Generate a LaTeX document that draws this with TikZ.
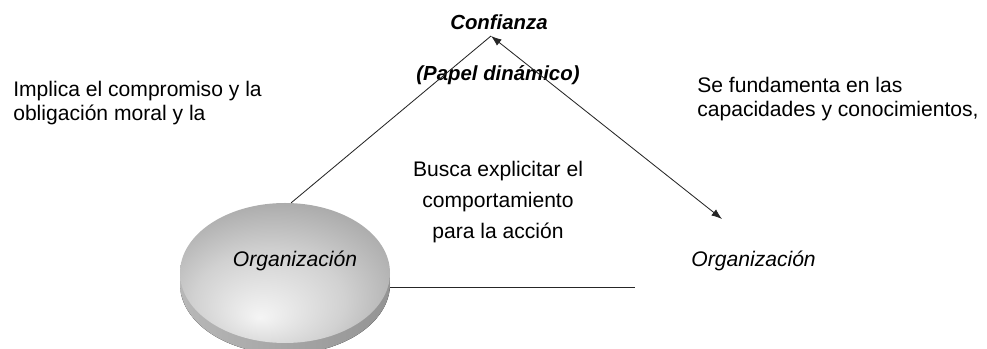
\documentclass[tikz,border=0pt]{standalone}
\usepackage{fontspec}
\setmainfont{Liberation Sans}
\usetikzlibrary{arrows.meta,shapes.geometric}

\pgfdeclareradialshading{discface}{\pgfpoint{-6bp}{-16bp}}{%
  color(0bp)=(black!4); color(18bp)=(black!18); color(36bp)=(black!38); color(50bp)=(black!52)}

\tikzset{
  txt/.style={font=\fontsize{15}{17}\selectfont, align=left, inner sep=0pt},
  mid/.style={font=\fontsize{15}{22}\selectfont, align=center, inner sep=0pt},
  hdr/.style={font=\fontsize{14.5}{17}\selectfont\bfseries\itshape, inner sep=0pt},
  org/.style={font=\fontsize{15}{17}\selectfont\itshape, inner sep=0pt},
  conn/.style={line width=0.6pt, black!85}
}

\begin{document}
\begin{tikzpicture}[>={Latex[length=7.5pt,width=5.5pt]}]
  \useasboundingbox (0,0) rectangle (24.675,8.725);

  % base of the disc
  \fill[left color=black!28, middle color=black!12, right color=black!42]
    (7.125,1.625) ellipse (2.625 and 1.75);
  \node[ellipse, minimum width=5.25cm, minimum height=3.5cm, shading=discface]
    (orgA) at (7.125,1.9) {};
  \node[org, anchor=base] (orgAtxt) at (7.375,2.07) {Organización};

  \node[hdr, anchor=base] (conf) at (12.475,7.975) {Confianza};
  \coordinate (apex) at (12.275,7.825);
  \node[hdr, anchor=base] (papel) at (12.45,6.7) {(Papel dinámico)};

  \node[txt, anchor=north west] (implica) at (0.325,6.69)
    {Implica el compromiso y la\\obligación moral y la};
  \node[txt, anchor=north west] (funda) at (17.425,6.8)
    {Se fundamenta en las\\capacidades y conocimientos,};
  \node[mid] (busca) at (12.45,3.675)
    {Busca explicitar el\\comportamiento\\para la acción};

  \node[org, anchor=base] (orgB) at (18.84,2.05) {Organización};
  \coordinate (rightend) at (18.05,3.25);
  \coordinate (baseend) at (15.875,1.55);

  \draw[conn] (orgA.85) -- (apex);
  \draw[conn, <->] (apex) -- (rightend);
  \draw[conn] (orgA.east |- baseend) -- (baseend);
\end{tikzpicture}
\end{document}
